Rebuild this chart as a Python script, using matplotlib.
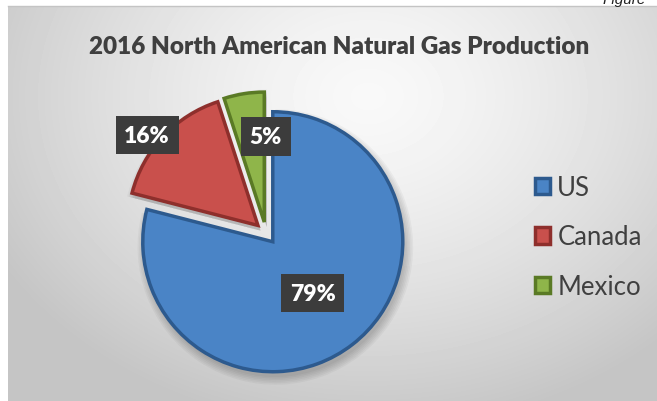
import matplotlib.pyplot as plt
import numpy as np

countries = ['US', 'Canada', 'Mexico']
shares = [79, 16, 5]
pct_labels = ['79%', '16%', '5%']

colors = ['#4a84c6', '#c9504c', '#8fb54a']
edges = ['#2d5a8e', '#8e2f2c', '#5a7a25']

plt.rcParams['font.family'] = ['Lato', 'DejaVu Sans']

W, H = 657, 402
fig = plt.figure(figsize=(W / 100, H / 100), dpi=100)

# chart area background: soft radial gradient
bg = fig.add_axes([8 / W, 0, (W - 8) / W, (H - 7) / H])
yy, xx = np.mgrid[0:395, 0:649]
rr = np.sqrt(((xx - 360) / 420.0) ** 2 + ((yy - 90) / 330.0) ** 2)
shade = np.clip(0.975 - 0.2 * rr ** 1.4, 0.77, 1)
bg.imshow(shade, cmap='gray', vmin=0, vmax=1, aspect='auto')
bg.set_axis_off()
fig.add_artist(plt.Line2D([8 / W, 1], [1 - 7 / H, 1 - 7 / H], color='#c4c4c4', lw=1))

fig.text(603 / W, 1 - 4 / H, 'Figure', fontsize=11, style='italic',
         family='Liberation Sans', va='baseline', ha='left', color='#222222')

fig.text(339 / W, 1 - 47 / H, '2016 North American Natural Gas Production',
         fontsize=17.5, fontweight='heavy', ha='center', va='center', color='#3f3f3f')

# pie
cx, cy, R = 266, H - 234, 130
half = 200
ax = fig.add_axes([(cx - half) / W, (cy - half) / H, 2 * half / W, 2 * half / H])
lim = half / R
explode = [0.085] * 3

# soft shadow
for k in range(6):
    ax.pie(shares, startangle=90, counterclock=False, explode=explode,
           radius=1 + 0.012 * k, center=(0.02, -0.04),
           colors=['#000000'] * 3, wedgeprops=dict(alpha=0.035, lw=0))

wedges, _ = ax.pie(shares, startangle=90, counterclock=False, explode=explode,
                   colors=colors, wedgeprops=dict(lw=2.5))
for w, e in zip(wedges, edges):
    w.set_edgecolor(e)

label_dist = [0.5, 1.1, 0.66]
label_turn = [0, 4, -10]
for w, lab, d, t in zip(wedges, pct_labels, label_dist, label_turn):
    mid = np.deg2rad((w.theta1 + w.theta2) / 2 + t)
    x = w.center[0] + d * np.cos(mid)
    y = w.center[1] + d * np.sin(mid)
    ax.text(x, y, lab, ha='center', va='center', fontsize=16.5, fontweight='heavy',
            color='white',
            bbox=dict(boxstyle='square,pad=0.38', fc='#3c3c3c', ec='none'))

ax.set_xlim(-lim, lim)
ax.set_ylim(-lim, lim)
ax.set_aspect('equal')
ax.set_axis_off()

leg = fig.legend(wedges, countries, loc='upper left',
                 bbox_to_anchor=(535 / W, 1 - 176 / H), frameon=False,
                 borderpad=0, borderaxespad=0,
                 fontsize=18.5, handlelength=0.6, handleheight=0.6,
                 handletextpad=0.27, labelspacing=0.95, labelcolor='#404040')

fig.savefig('out.png', dpi=100)
